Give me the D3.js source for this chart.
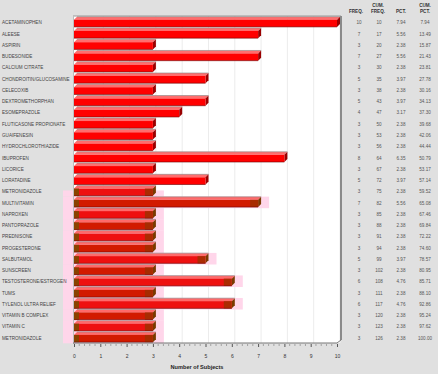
<!DOCTYPE html>
<html><head><meta charset="utf-8">
<script src="https://cdn.jsdelivr.net/npm/d3@7/dist/d3.min.js"></script>
<style>
html,body{margin:0;padding:0;background:#e0e0e0;}
svg{display:block;font-family:"Liberation Sans",Arial,sans-serif;}
</style></head>
<body>
<svg id="c" width="438" height="374"></svg>
<script>
const categories = ["ACETAMINOPHEN","ALEESE","ASPIRIN","BUDESONIDE","CALCIUM CITRATE","CHONDROITIN/GLUCOSAMINE","CELECOXIB","DEXTROMETHORPHAN","ESOMEPRAZOLE","FLUTICASONE PROPIONATE","GUAIFENESIN","HYDROCHLOROTHIAZIDE","IBUPROFEN","LICORICE","LORATADINE","METRONIDAZOLE","MULTIVITAMIN","NAPROXEN","PANTOPRAZOLE","PREDNISONE","PROGESTERONE","SALBUTAMOL","SUNSCREEN","TESTOSTERONE/ESTROGEN","TUMS","TYLENOL ULTRA RELIEF","VITAMIN B COMPLEX","VITAMIN C","METRONIDAZOLE"];
const freq = [10,7,3,7,3,5,3,5,4,3,3,3,8,3,5,3,7,3,3,3,3,5,3,6,3,6,3,3,3];
const cumFreq = [10,17,20,27,30,35,38,43,47,50,53,56,64,67,72,75,82,85,88,91,94,99,102,108,111,117,120,123,126];
const pct = ["7.94","5.56","2.38","5.56","2.38","3.97","2.38","3.97","3.17","2.38","2.38","2.38","6.35","2.38","3.97","2.38","5.56","2.38","2.38","2.38","2.38","3.97","2.38","4.76","2.38","4.76","2.38","2.38","2.38"];
const cumPct = ["7.94","13.49","15.87","21.43","23.81","27.78","30.16","34.13","37.30","39.68","42.06","44.44","50.79","53.17","57.14","59.52","65.08","67.46","69.84","72.22","74.60","78.57","80.95","85.71","88.10","92.86","95.24","97.62","100.00"];
const xTicks = [0,1,2,3,4,5,6,7,8,9,10];
const tableHeaders = [["","FREQ."],["CUM.","FREQ."],["","PCT."],["CUM.","PCT."]];
const highlightFrom = 15;

const svg = d3.select("#c");
const x = d3.scaleLinear().domain([0,10]).range([74,337]);
const y = d3.scaleBand().domain(d3.range(categories.length)).range([16.5,343]).padding(0);
const D = 3;

const g = svg.append("g");
g.append("rect").attr("x",73).attr("y",16).attr("width",x(10)-73+D).attr("height",343-16).attr("fill","#ffffff");
g.selectAll("line.grid").data(xTicks.slice(1)).enter().append("line")
  .attr("x1",d=>x(d)+D).attr("x2",d=>x(d)+D).attr("y1",16).attr("y2",343)
  .attr("stroke","#ececec").attr("stroke-width",1);

const hi = d3.range(highlightFrom, categories.length);
g.selectAll("rect.pink").data(hi).enter().append("rect")
  .attr("x",63).attr("y",i=> i===highlightFrom ? y(i)+y.bandwidth()*0.45 : y(i))
  .attr("width",i=>x(freq[i])+D+8-63)
  .attr("height",i=> i===highlightFrom ? y.bandwidth()*0.55 : y.bandwidth()+0.3)
  .attr("fill","#ffd6ea");

const bh = 7.2;
const bars = g.selectAll("g.bar").data(d3.range(categories.length)).enter().append("g");
bars.each(function(i){
  const s = d3.select(this);
  const x0 = x(0), x1 = x(freq[i]);
  const yt = y(i) + 3.2, yb = yt + bh;
  const isHi = i >= highlightFrom;
  const front = isHi ? (i%2 ? "#ee1010" : "#d21a00") : "#ff0000";
  const top = isHi ? "#ff6a6a" : "#ff6e6e";
  const side = "#9a0000";
  s.append("path").attr("d",`M${x0},${yt}L${x0+D},${yt-D}L${x1+D},${yt-D}L${x1},${yt}Z`).attr("fill",top);
  s.append("path").attr("d",`M${x1},${yt}L${x1+D},${yt-D}L${x1+D},${yb-D}L${x1},${yb}Z`).attr("fill",isHi?"#7a3a00":side);
  s.append("rect").attr("x",x0).attr("y",yt).attr("width",x1-x0).attr("height",bh).attr("fill",front);
  if(isHi){
    s.append("rect").attr("x",x0).attr("y",yt).attr("width",5).attr("height",bh).attr("fill","#8a4200");
    s.append("rect").attr("x",x1-8).attr("y",yt).attr("width",8).attr("height",bh).attr("fill","#a03000").attr("opacity",0.85);
  }
  s.append("line").attr("x1",x0).attr("x2",x1).attr("y1",yb).attr("y2",yb).attr("stroke","#6a0000").attr("stroke-width",0.6);
  s.append("line").attr("x1",x0+D).attr("x2",x1+D).attr("y1",yt-D).attr("y2",yt-D).attr("stroke","#888").attr("stroke-width",0.6);
});

g.append("line").attr("x1",73).attr("x2",x(10)+D+1).attr("y1",16).attr("y2",16).attr("stroke","#9a9a9a").attr("stroke-width",1);
g.append("line").attr("x1",x(10)+D+1).attr("x2",x(10)+D+1).attr("y1",16).attr("y2",340).attr("stroke","#8a8a8a").attr("stroke-width",2);
g.append("line").attr("x1",73.5).attr("x2",73.5).attr("y1",16).attr("y2",344).attr("stroke","#bdbdbd").attr("stroke-width",1);
g.append("path").attr("d",`M73,343L${x(10)},343L${x(10)+D+1},340`).attr("fill","none").attr("stroke","#777").attr("stroke-width",1);

const axis = d3.axisBottom(x).tickValues(xTicks).tickSize(3).tickFormat(d3.format("d"));
const ax = svg.append("g").attr("transform","translate(0,344)").call(axis);
ax.select(".domain").remove();
ax.selectAll("line").attr("stroke","#555");
ax.selectAll("text").attr("font-size",5).attr("fill","#333").attr("dy","1.6em");
const minor = d3.range(0,10.001,0.2).filter(v=>Math.abs(v-Math.round(v))>0.01);
svg.append("g").selectAll("line").data(minor).enter().append("line")
  .attr("x1",d=>x(d)).attr("x2",d=>x(d)).attr("y1",344).attr("y2",346).attr("stroke","#777").attr("stroke-width",0.6);

svg.append("text").attr("x",197).attr("y",369).attr("text-anchor","middle").attr("font-size",5.6).attr("font-weight","bold").attr("fill","#222").text("Number of Subjects");

svg.append("g").selectAll("text").data(categories).enter().append("text")
  .attr("x",2).attr("y",(d,i)=>y(i)+y.bandwidth()/2+2.3)
  .attr("font-size",4.6).attr("fill","#444").text(d=>d);

const colX = [356,378,401,425];
const cols = [freq, cumFreq, pct, cumPct];
tableHeaders.forEach((h,k)=>{
  svg.append("text").attr("x",colX[k]).attr("y",6.5).attr("text-anchor","middle").attr("font-size",4.6).attr("font-weight","bold").attr("fill","#333").text(h[0]);
  svg.append("text").attr("x",colX[k]).attr("y",13).attr("text-anchor","middle").attr("font-size",4.6).attr("font-weight","bold").attr("fill","#333").text(h[1]);
});
const valX = [359,379,401,425];
cols.forEach((arr,k)=>{
  svg.append("g").selectAll("text").data(arr).enter().append("text")
    .attr("x",valX[k]).attr("y",(d,i)=>y(i)+y.bandwidth()/2+2.3)
    .attr("text-anchor","middle").attr("font-size",4.6).attr("fill","#555").text(d=>d);
});
</script>
</body></html>
